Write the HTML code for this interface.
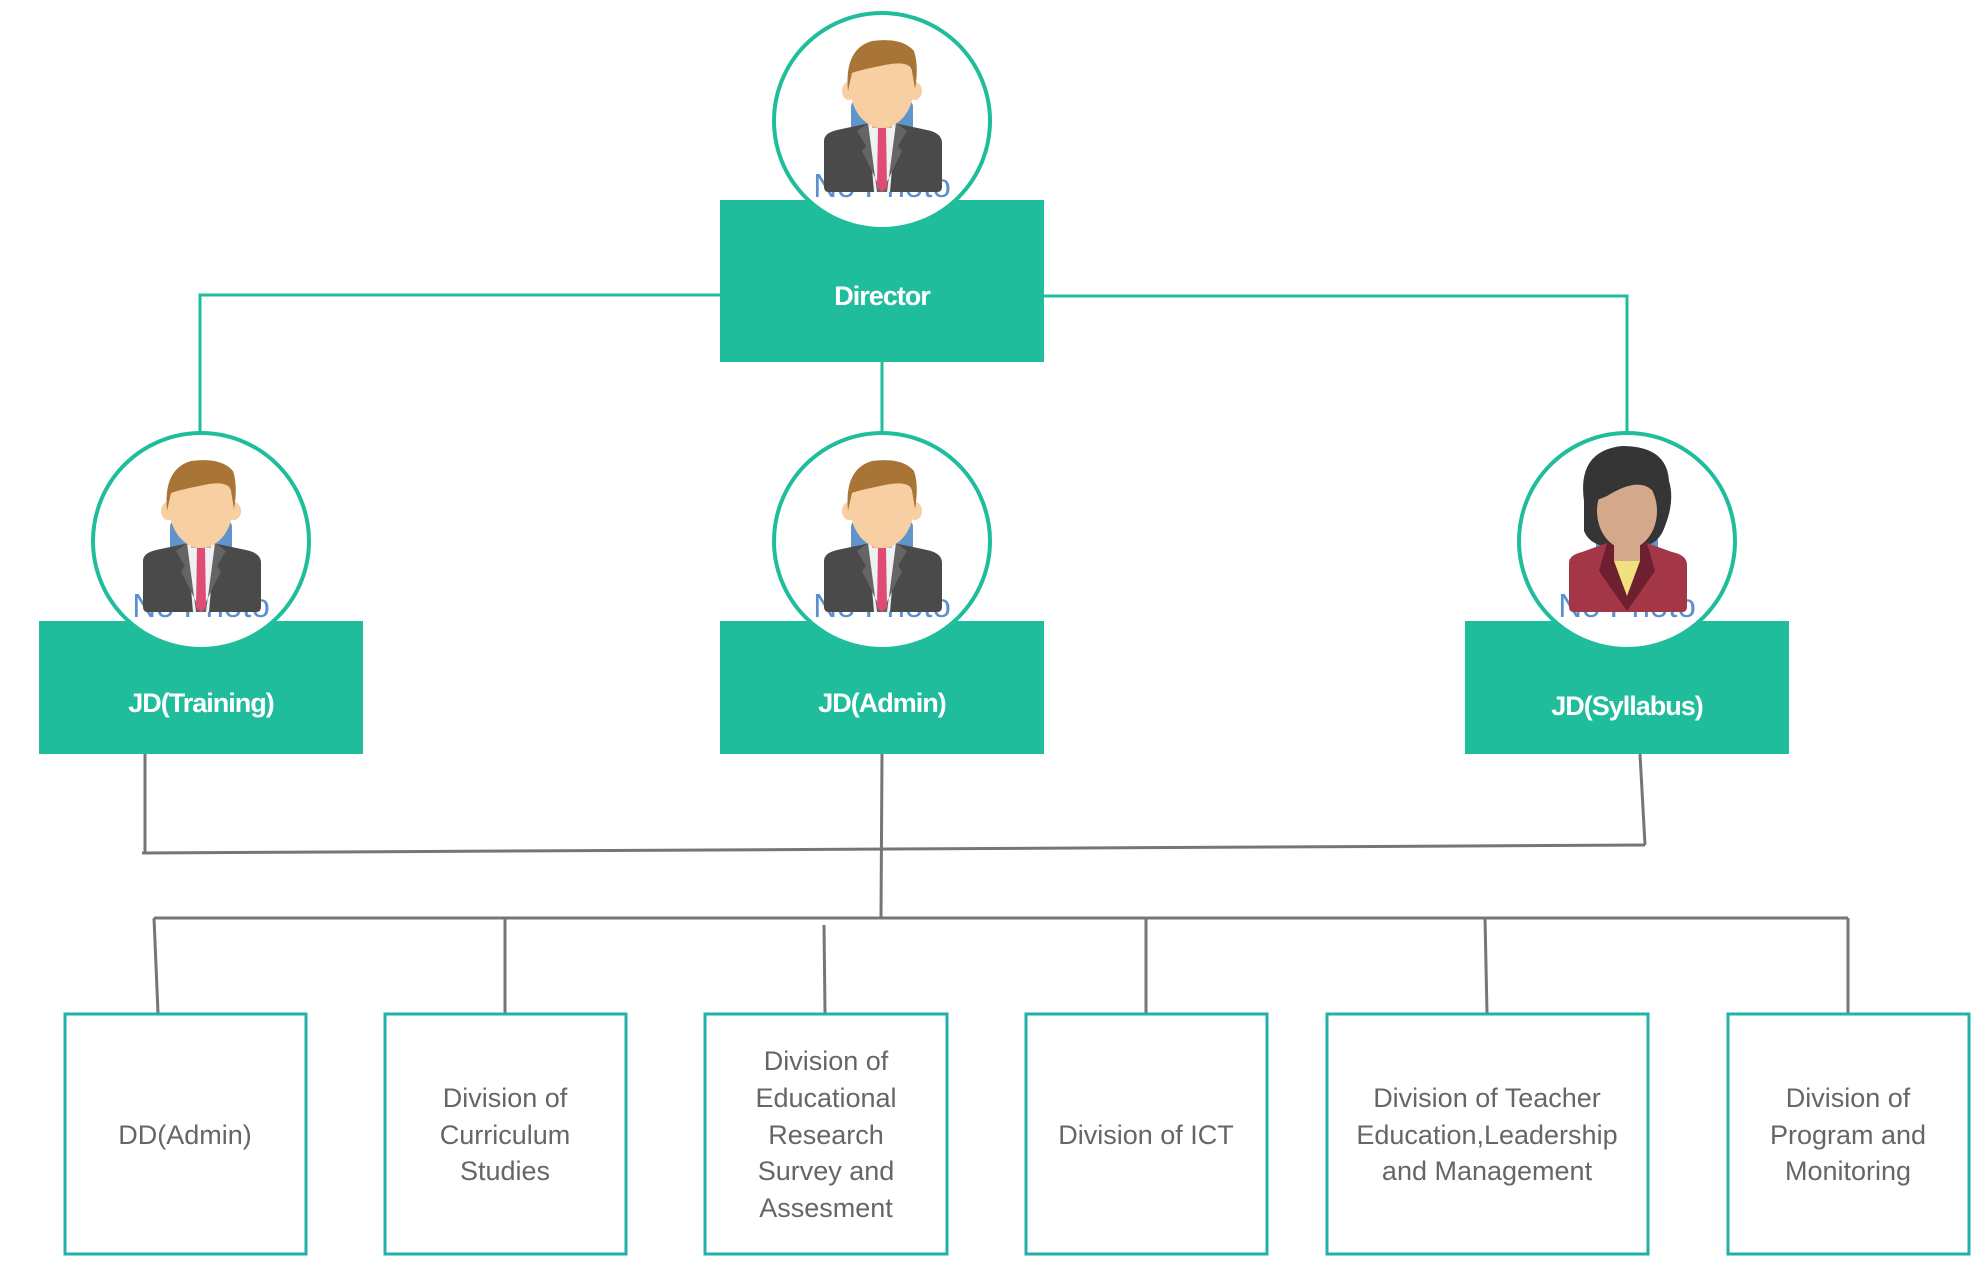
<!DOCTYPE html>
<html><head><meta charset="utf-8"><style>
body{margin:0;background:#fff;}
svg{display:block}
</style></head><body>
<svg width="1980" height="1268" viewBox="0 0 1980 1268" xmlns="http://www.w3.org/2000/svg" font-family="Liberation Sans, sans-serif">
<defs>
<g id="man">
 <circle r="108" fill="#fff" stroke="#20bd9c" stroke-width="4"/>
 <rect x="-31" y="-22" width="62" height="40" rx="8" fill="#5f95cc"/>
 <text x="0" y="76" text-anchor="middle" font-size="33" fill="#5b8fd0">No Photo</text>
 <path d="M-58 20 Q-58 12 -45 9 L-12 2 L12 2 L45 9 Q60 12 60 22 L60 66 Q60 71 55 71 L-53 71 Q-58 71 -58 66 Z" fill="#4a4a4a"/>
 <path d="M-14 2 L14 2 L8 71 L-8 71 Z" fill="#eef1f1"/>
 <path d="M-14 2 L-25 10 L-16 25 L-20 30 L0 71 L-5 71 Z" fill="#656565"/>
 <path d="M14 2 L25 10 L16 25 L20 30 L0 71 L5 71 Z" fill="#656565"/>
 <path d="M-4 6 L4 6 L5 66 L0 71 L-5 66 Z" fill="#e04b74"/>
 <rect x="-10" y="-5" width="20" height="12" fill="#e3b088"/>
 <ellipse cx="-33" cy="-30" rx="7" ry="9" fill="#f8cfa2"/>
 <ellipse cx="33" cy="-30" rx="7" ry="9" fill="#f8cfa2"/>
 <ellipse cx="0" cy="-35" rx="32" ry="42" fill="#f8cfa2"/>
 <path d="M-34 -30 Q-38 -72 -10 -80 Q20 -84 32 -70 Q37 -55 33 -32 L30 -50 Q28 -62 -2 -55 Q-26 -50 -30 -48 Z" fill="#a87536"/>
</g>
</defs>

<g stroke="#20bd9c" stroke-width="3" fill="none">
 <path d="M720 295 L200 295 L200 432"/>
 <path d="M1044 296 L1627 296 L1627 432"/>
 <path d="M882 362 L882 432"/>
</g>
<g stroke="#767676" stroke-width="3" fill="none">
 <path d="M145 754 L145 852"/>
 <path d="M142 853 L1645 845"/>
 <path d="M1640 754 L1645 845"/>
 <path d="M882 754 L881 918"/>
 <path d="M154 918 L1848 918"/>
 <path d="M154 918 L158 1013"/>
 <path d="M505 918 L505 1013"/>
 <path d="M824 925 L825 1013"/>
 <path d="M1146 918 L1146 1013"/>
 <path d="M1485 918 L1487 1013"/>
 <path d="M1848 918 L1848 1013"/>
</g>

<g fill="#20bd9c">
 <rect x="720" y="200" width="324" height="162"/>
 <rect x="39" y="621" width="324" height="133"/>
 <rect x="720" y="621" width="324" height="133"/>
 <rect x="1465" y="621" width="324" height="133"/>
</g>
<use href="#man" x="882" y="121"/>
<use href="#man" x="201" y="541"/>
<use href="#man" x="882" y="541"/>
<g transform="translate(1627,541)">
 <circle r="108" fill="#fff" stroke="#20bd9c" stroke-width="4"/>
 <rect x="-31" y="-22" width="62" height="40" rx="8" fill="#5f95cc"/>
 <text x="0" y="76" text-anchor="middle" font-size="33" fill="#5b8fd0">No Photo</text>
 <path d="M-43 -40 Q-50 -90 -5 -95 Q40 -95 42 -60 Q48 -40 38 -15 Q30 10 0 5 Q-35 10 -43 -10 Z" fill="#353535"/>
 <path d="M-58 22 Q-58 14 -45 11 L-20 2 L20 2 L45 11 Q60 14 60 24 L60 66 Q60 71 55 71 L-53 71 Q-58 71 -58 66 Z" fill="#a33748"/>
 <path d="M-20 2 L20 2 L28 30 L0 70 L-28 30 Z" fill="#6e1f30"/>
 <path d="M-13 20 L13 20 L0 55 Z" fill="#f1e07f"/>
 <rect x="-13" y="-5" width="26" height="25" fill="#d4a88a"/>
 <ellipse cx="0" cy="-30" rx="30" ry="38" fill="#d4a88a"/>
 <path d="M-32 -40 Q-30 -85 0 -85 Q35 -85 32 -40 Q20 -70 -20 -45 Z" fill="#353535"/>
</g>

<g fill="#fff" font-weight="bold" font-size="27" text-anchor="middle" letter-spacing="-1">
 <text x="882" y="305">Director</text>
 <text x="201" y="712">JD(Training)</text>
 <text x="882" y="712">JD(Admin)</text>
 <text x="1627" y="715">JD(Syllabus)</text>
</g>

<g fill="#fff" stroke="#20b2aa" stroke-width="3">
 <rect x="65" y="1014" width="241" height="240"/>
 <rect x="385" y="1014" width="241" height="240"/>
 <rect x="705" y="1014" width="242" height="240"/>
 <rect x="1026" y="1014" width="241" height="240"/>
 <rect x="1327" y="1014" width="321" height="240"/>
 <rect x="1728" y="1014" width="241" height="240"/>
</g>
<g fill="#666" font-size="27" text-anchor="middle">
 <text x="185" y="1144">DD(Admin)</text>
 <text x="505" y="1107">Division of</text>
 <text x="505" y="1144">Curriculum</text>
 <text x="505" y="1180">Studies</text>
 <text x="826" y="1070">Division of</text>
 <text x="826" y="1107">Educational</text>
 <text x="826" y="1144">Research</text>
 <text x="826" y="1180">Survey and</text>
 <text x="826" y="1217">Assesment</text>
 <text x="1146" y="1144">Division of ICT</text>
 <text x="1487" y="1107">Division of Teacher</text>
 <text x="1487" y="1144">Education,Leadership</text>
 <text x="1487" y="1180">and Management</text>
 <text x="1848" y="1107">Division of</text>
 <text x="1848" y="1144">Program and</text>
 <text x="1848" y="1180">Monitoring</text>
</g>
</svg>
</body></html>
